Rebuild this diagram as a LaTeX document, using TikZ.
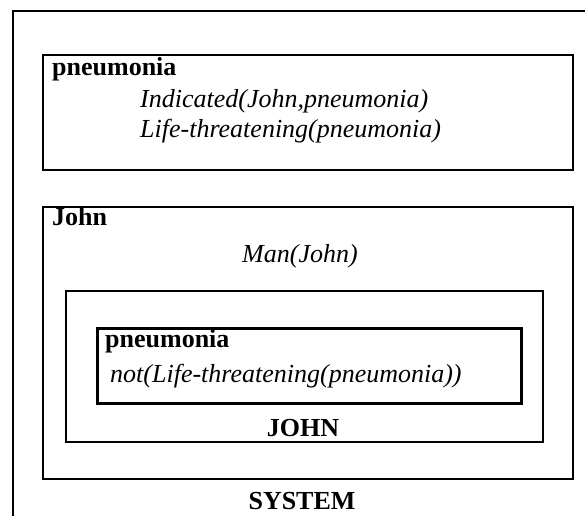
\documentclass[tikz,border=0pt]{standalone}
\usepackage{fontspec}
\setmainfont{Liberation Serif}
\begin{document}
\begin{tikzpicture}[x=1pt,y=-1pt,
  sysframe/.style={draw=black,line width=1.7pt},
  frame/.style={draw=black,line width=2.6pt},
  innerframe/.style={draw=black,line width=3pt},
  label/.style={inner sep=0pt,anchor=base west,font=\fontsize{26}{30}\selectfont\bfseries},
  fact/.style={inner sep=0pt,anchor=base west,font=\fontsize{26}{30}\selectfont\itshape},
  title/.style={inner sep=0pt,anchor=base,font=\fontsize{26}{30}\selectfont\bfseries}]
  \useasboundingbox[fill=white] (0,0) rectangle (585,515);

  % system context: only its left and top edges fall inside the page
  \draw[sysframe] (13.3,520) -- (13.3,11) -- (590,11);

  % first context about pneumonia
  \draw[frame] (43,55) rectangle (573,170);
  \node[label] (pn1) at (52,75) {pneumonia};
  \node[fact] (ind) at (140,107) {Indicated(John,pneumonia)};
  \node[fact] (lt) at (140,137) {Life-threatening(pneumonia)};

  % John's context
  \draw[frame] (43,207) rectangle (573,479);
  \node[label] (john) at (52,225) {John};
  \node[fact,anchor=base] (man) at (300,262) {Man(John)};

  % JOHN's belief context
  \draw[frame] (66,291) rectangle (543,442);
  \node[title] (JOHN) at (303,436) {JOHN};

  % pneumonia as seen by John
  \draw[innerframe] (97,328) rectangle (521,403);
  \node[label] (pn2) at (105,347) {pneumonia};
  \node[fact] (notlt) at (110,382) {not(Life-threatening(pneumonia))};

  \node[title] (sys) at (302,509) {SYSTEM};
\end{tikzpicture}
\end{document}
